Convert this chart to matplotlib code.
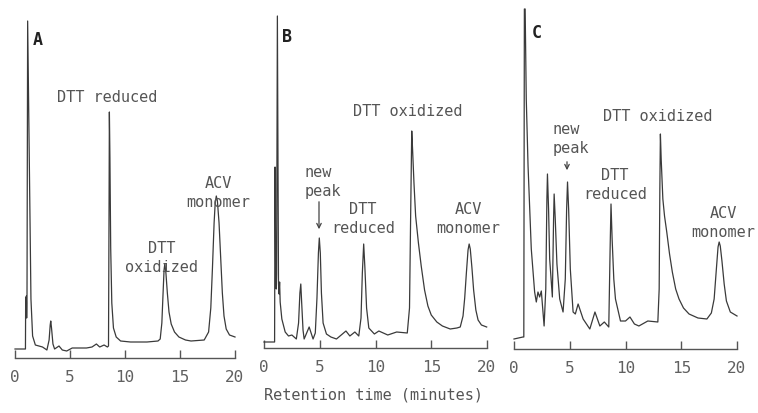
import matplotlib
matplotlib.use('Agg')
import matplotlib.pyplot as plt

# chromatogram traces (time in minutes, detector response in arbitrary units)
time_a = [0, 0.95, 0.97, 1.0, 1.03, 1.06, 1.09, 1.15, 1.45, 1.6, 1.85, 2.5, 2.9, 3.1, 3.2, 3.25,
          3.32, 3.45, 3.6, 4.0, 4.3, 4.7, 5.2, 6.5, 7.0, 7.4, 7.7, 8.1, 8.4, 8.5, 8.55, 8.58,
          8.63, 8.7, 8.8, 8.95, 9.2, 9.6, 10.5, 12.0, 13.0, 13.2, 13.35, 13.45, 13.55, 13.62,
          13.72, 13.85, 14.0, 14.2, 14.5, 14.9, 15.5, 16.0, 17.2, 17.6, 17.8, 17.95, 18.1, 18.2,
          18.3, 18.4, 18.55, 18.7, 18.85, 19.0, 19.2, 19.5, 20.0]
signal_a = [9, 9, 60, 45, 62, 40, 55, 337, 59, 22, 13, 11, 8, 18, 33, 37,
            30, 14, 9, 12, 8, 7, 10, 10, 11, 14, 11, 13, 11, 12, 150, 246,
            200, 110, 55, 30, 21, 17, 16, 16, 17, 19, 35, 62, 88, 94,
            85, 65, 46, 34, 26, 21, 18, 17, 18, 26, 50, 90, 135, 155,
            162, 157, 135, 100, 65, 42, 29, 23, 21]

time_b = [0, 0.95, 0.99, 1.05, 1.1, 1.13, 1.2, 1.3, 1.35, 1.4, 1.45, 1.6, 1.9, 2.2, 2.5, 2.9,
          3.1, 3.22, 3.3, 3.38, 3.5, 3.6, 4.05, 4.4, 4.6, 4.75, 4.88, 4.96, 5.05, 5.15, 5.3,
          5.6, 6.0, 6.5, 7.35, 7.7, 8.15, 8.5, 8.7, 8.82, 8.94, 9.05, 9.2, 9.4, 9.9, 10.3, 11.1,
          11.9, 12.85, 13.05, 13.15, 13.25, 13.32, 13.45, 13.6, 13.85, 14.1, 14.4, 14.7, 15.0,
          15.5, 16.0, 16.7, 17.3, 17.6, 17.85, 18.0, 18.15, 18.3, 18.4, 18.5, 18.65, 18.8, 19.0,
          19.2, 19.5, 19.97]
signal_b = [6, 6, 181, 69, 59, 74, 332, 64, 54, 66, 46, 29, 16, 12, 13, 9,
            25, 55, 64, 45, 18, 9, 21, 9, 15, 50, 95, 110, 95, 55, 25,
            14, 11, 9, 17, 12, 16, 12, 30, 75, 104, 80, 40, 20, 14, 17, 13,
            16, 15, 40, 130, 217, 200, 165, 132, 105, 82, 58, 42, 33,
            26, 22, 19, 20, 21, 32, 50, 75, 98, 104, 99, 80, 58, 38,
            28, 23, 21]

time_c = [0, 0.8, 0.88, 0.93, 1.0, 1.1, 1.26, 1.55, 1.85, 2.0, 2.15, 2.3, 2.45, 2.7, 2.85, 2.95,
          3.0, 3.1, 3.2, 3.44, 3.55, 3.6, 3.7, 3.85, 4.1, 4.4, 4.6, 4.72, 4.8, 4.9, 5.05, 5.3,
          5.5, 5.75, 6.2, 6.8, 7.26, 7.7, 8.1, 8.5, 8.62, 8.7, 8.8, 8.95, 9.1, 9.55, 10.0, 10.4,
          10.8, 11.2, 12.0, 12.9, 13.02, 13.08, 13.13, 13.2, 13.35, 13.5, 13.7, 13.95, 14.2,
          14.5, 14.8, 15.2, 15.7, 16.5, 17.3, 17.7, 17.95, 18.15, 18.3, 18.4, 18.5, 18.65, 18.85,
          19.05, 19.4, 20.0]
signal_c = [10, 12, 12, 340, 340, 250, 183, 100, 57, 47, 57, 52, 58, 23, 60, 150,
            175, 140, 90, 52, 130, 155, 130, 85, 50, 37, 70, 140, 167, 140, 80, 37,
            35, 45, 30, 20, 37, 23, 27, 22, 100, 145, 110, 70, 50, 28, 28, 32,
            25, 23, 28, 27, 60, 160, 215, 190, 150, 133, 117, 95, 77,
            60, 50, 41, 35, 31, 30, 36, 50, 80, 102, 107, 103, 88, 65,
            48, 37, 33]

tick_values = [0, 5, 10, 15, 20]
tick_labels = ['0', '5', '10', '15', '20']
panel_names = ['A', 'B', 'C']

W, H = 758, 414
MONO = 'DejaVu Sans Mono'
TEXT = '#555555'


def fpos(x, y):
    # pixel position in the picture -> figure fraction
    return x / W, 1 - y / H


fig = plt.figure(figsize=(W / 100, H / 100), dpi=100)

# left pixel of t=0, right pixel of t=20, pixel row of the time axis
frames = [(15, 235, 359), (264, 487, 349), (514, 737, 350)]
traces = [(time_a, signal_a), (time_b, signal_b), (time_c, signal_c)]

for (x0, x1, yax), (t, s) in zip(frames, traces):
    ax = fig.add_axes([x0 / W, 1 - yax / H, (x1 - x0) / W, yax / H])
    ax.plot(t, s, color='#3a3a3a', lw=0.9, clip_on=False, solid_joinstyle='round')
    ax.set_xlim(0, 20)
    ax.set_ylim(0, yax)
    for side in ['top', 'right', 'left']:
        ax.spines[side].set_visible(False)
    ax.spines['bottom'].set_color('#555555')
    ax.spines['bottom'].set_linewidth(1.0)
    ax.set_yticks([])
    ax.set_xticks(tick_values)
    ax.set_xticklabels(tick_labels, fontfamily=MONO, fontsize=11.5, color='#606060')
    ax.tick_params(axis='x', direction='in', length=6, width=1.0, color='#555555', pad=8)
    ax.patch.set_visible(False)

# panel letters
for name, (x, y) in zip(panel_names, [(38, 40), (287, 37), (537, 33)]):
    fig.text(*fpos(x, y), name, family=MONO, fontsize=12, fontweight='bold',
             color='#222222', ha='center', va='center')

labels = [
    ('DTT reduced', 107, 97, 'center'),
    ('DTT\noxidized', 162, 258, 'center'),
    ('ACV\nmonomer', 218, 193, 'center'),
    ('DTT oxidized', 408, 112, 'center'),
    ('new\npeak', 305, 182, 'left'),
    ('DTT\nreduced', 363, 219, 'center'),
    ('ACV\nmonomer', 468, 219, 'center'),
    ('DTT oxidized', 658, 117, 'center'),
    ('new\npeak', 553, 139, 'left'),
    ('DTT\nreduced', 615, 185, 'center'),
    ('ACV\nmonomer', 723, 223, 'center'),
]
for txt, x, y, ha in labels:
    fig.text(*fpos(x, y), txt, family=MONO, fontsize=11, color=TEXT,
             ha=ha, va='center', multialignment=ha, linespacing=1.35)

# arrows pointing at the new peak
for x, ya, yb in [(319, 200, 233), (567, 160, 174)]:
    fig.add_artist(matplotlib.patches.FancyArrowPatch(
        fpos(x, ya), fpos(x, yb), transform=fig.transFigure,
        arrowstyle='->', mutation_scale=8, color='#444444', lw=0.9))

fig.text(*fpos(373, 395), 'Retention time (minutes)', family=MONO, fontsize=11,
         color=TEXT, ha='center', va='center')

fig.savefig('out.png', dpi=100)
